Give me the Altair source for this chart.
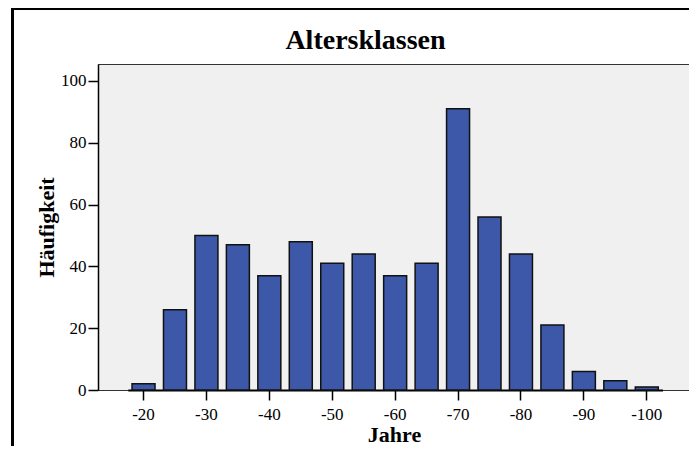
import altair as alt
import pandas as pd

# Data
klassen = ["-20", "-25", "-30", "-35", "-40", "-45", "-50", "-55", "-60",
           "-65", "-70", "-75", "-80", "-85", "-90", "-95", "-100"]
haeufigkeit = [2, 26, 50, 47, 37, 48, 41, 44, 37, 41, 91, 56, 44, 21, 6, 3, 1]
x_tick_labels = ["-20", "-30", "-40", "-50", "-60", "-70", "-80", "-90", "-100"]
y_tick_values = [0, 20, 40, 60, 80, 100]

df = pd.DataFrame({"Jahre": klassen, "Häufigkeit": haeufigkeit})
frame_df = pd.DataFrame({"k": [0]})

FONT = "Liberation Serif"
W, H = 591, 326

bars = alt.Chart(df).mark_bar(
    color="#3E58A9", stroke="#111111", strokeWidth=1.5
).encode(
    x=alt.X(
        "Jahre:N",
        sort=klassen,
        scale=alt.Scale(paddingInner=0.269, paddingOuter=0.1345,
                        range=[29.8, 564.5]),
        axis=alt.Axis(
            values=x_tick_labels, labelAngle=0, title="Jahre",
            labelPadding=6, tickSize=10, tickWidth=1.5,
            domainWidth=2, titleBaseline="alphabetic", titleY=51.5, titleX=296,
            titleAlign="center",
        ),
    ),
    y=alt.Y(
        "Häufigkeit:Q",
        scale=alt.Scale(domain=[0, 105.5], nice=False, zero=True),
        axis=alt.Axis(
            values=y_tick_values, title="Häufigkeit", labelPadding=2,
            tickSize=10, tickWidth=1.5, domainWidth=1.5,
            titleAngle=270, titleBaseline="alphabetic", titleAlign="center",
            titleX=-45, titleY=163,
        ),
    ),
)

# outer frame of the figure (left and top edge)
left_edge = alt.Chart(frame_df).mark_rule(color="black", strokeWidth=3).encode(
    x=alt.value(-85.5), y=alt.value(-60), y2=alt.value(400)
)
top_edge = alt.Chart(frame_df).mark_rule(color="black", strokeWidth=2).encode(
    x=alt.value(-87), x2=alt.value(620), y=alt.value(-55)
)

chart = alt.layer(bars, left_edge, top_edge).properties(
    width=W,
    height=H,
    title=alt.TitleParams(
        "Altersklassen", font=FONT, fontSize=28, fontWeight="bold",
        color="black", anchor="middle", frame="group", dx=-28,
        baseline="alphabetic", offset=-74,
    ),
    autosize=alt.AutoSizeParams(type="none"),
    padding={"left": 90, "top": 56, "right": 0, "bottom": 56},
    background="white",
).configure_view(
    fill="#F0F0F0", stroke="#333333", strokeWidth=1
).configure_axis(
    grid=False, labelFont=FONT, labelFontSize=17, labelColor="black",
    titleFont=FONT, titleFontSize=22, titleFontWeight="bold",
    titleColor="black", tickColor="black", domainColor="black",
)

chart.save("out.html", embed_options={"renderer": "svg", "actions": False})
